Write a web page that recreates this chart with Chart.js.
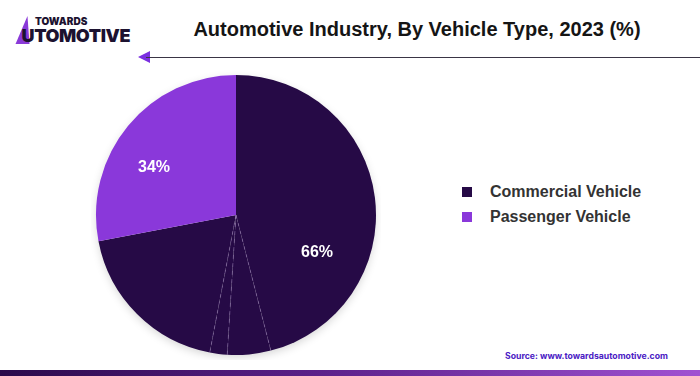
<!DOCTYPE html>
<html>
<head>
<meta charset="utf-8">
<script src="https://cdn.jsdelivr.net/npm/chart.js@4"></script>
<style>
  html, body { margin: 0; padding: 0; }
  body { width: 700px; height: 376px; position: relative; background: #fff; overflow: hidden; font-family: Inter, "Liberation Sans", sans-serif; }
  .logo { position: absolute; left: 12px; top: 15px; }
  .logo .small { position: absolute; left: 23px; top: 0; font: 900 10px Inter, sans-serif; color: #1c1230; }
  .logo .big { position: absolute; left: 0; top: 10px; font: 900 18px Inter, sans-serif; color: #1c1230; letter-spacing: -0.4px; white-space: nowrap; }
  .logo .tri { position: absolute; left: 6px; top: 1px; width: 0; height: 0; border-left: 7px solid transparent; border-right: 7px solid transparent; border-bottom: 28px solid #8a3ad8; transform: skewX(-10deg); }
  .title { position: absolute; left: 117px; top: 18px; width: 600px; text-align: center; font: 700 20px "Liberation Sans", Arial, sans-serif; color: #151515; white-space: nowrap; }
  .rule { position: absolute; left: 146px; right: 0; top: 57px; height: 1px; background: #3a3545; }
  .arrow { position: absolute; left: 138px; top: 51px; width: 0; height: 0; border-top: 6px solid transparent; border-bottom: 6px solid transparent; border-right: 12px solid #7a2fe0; }
  #wrap { position: absolute; left: 91px; top: 70px; width: 290px; height: 290px; }
  .legend { position: absolute; left: 462px; top: 179px; font: 700 16px "Liberation Sans", Arial, sans-serif; color: #333; }
  .legend div { height: 25px; line-height: 20px; display: flex; align-items: center; }
  .legend span.sw { display: inline-block; width: 10px; height: 10px; margin-right: 18px; }
  .source { position: absolute; left: 505px; top: 351px; font: 700 8.7px Inter, sans-serif; color: #4a20c4; }
  .bar { position: absolute; left: 0; right: 0; top: 370px; height: 6px; background: linear-gradient(90deg, #2a0a4a, #5a2089 45%, #a052d2); }
</style>
</head>
<body>
<div class="logo"><div class="tri"></div><div class="small">TOWARDS</div><div class="big">&nbsp;&nbsp;&nbsp;UTOMOTIVE</div></div>
<div class="title">Automotive Industry, By Vehicle Type, 2023 (%)</div>
<div class="arrow"></div><div class="rule"></div>
<div id="wrap"><canvas id="myChart"></canvas></div>
<div class="legend" id="legend"></div>
<div class="source">Source: www.towardsautomotive.com</div>
<div class="bar"></div>
<script>
// Categories and printed shares
const categories = ["Commercial Vehicle", "Passenger Vehicle"];
const shares = [66, 34];
const colors = ["#260a46", "#8a38da"];

// Slices as drawn in the picture (the dark area is made of several pieces)
const segments = [46, 5, 2, 19, 28];
const segmentOwner = [0, 0, 0, 0, 1];

// legend
const legendEl = document.getElementById("legend");
categories.forEach((c, i) => {
    const row = document.createElement("div");
    row.innerHTML = '<span class="sw" style="background:' + colors[i] + '"></span>' + c;
    legendEl.appendChild(row);
});

// faint dashed dividers between the dark pieces + shadow
const piecesPlugin = {
    id: "pieces",
    beforeDatasetsDraw(chart) {
        const ctx = chart.ctx;
        ctx.save();
        ctx.shadowColor = "rgba(0,0,0,0.18)";
        ctx.shadowBlur = 10;
        ctx.shadowOffsetY = 3;
        const a = chart.getDatasetMeta(0).data[0];
        ctx.beginPath();
        ctx.arc(a.x, a.y, a.outerRadius - 1, 0, Math.PI * 2);
        ctx.fillStyle = "#fff";
        ctx.fill();
        ctx.restore();
    },
    afterDatasetsDraw(chart) {
        const ctx = chart.ctx;
        const arcs = chart.getDatasetMeta(0).data;
        ctx.save();
        ctx.strokeStyle = "rgba(200,170,230,0.3)";
        ctx.lineWidth = 1;
        ctx.setLineDash([4, 4]);
        for (let i = 1; i < arcs.length; i++) {
            if (segmentOwner[i] !== segmentOwner[i - 1]) continue;
            const a = arcs[i];
            ctx.beginPath();
            ctx.moveTo(a.x, a.y);
            ctx.lineTo(a.x + Math.cos(a.startAngle) * a.outerRadius, a.y + Math.sin(a.startAngle) * a.outerRadius);
            ctx.stroke();
        }
        // share labels
        ctx.setLineDash([]);
        ctx.fillStyle = "#fff";
        ctx.font = "700 16px 'Liberation Sans', Arial, sans-serif";
        ctx.textAlign = "center";
        ctx.textBaseline = "middle";
        const a = arcs[0];
        ctx.fillText(shares[0] + "%", a.x + 81, a.y + 38);
        ctx.fillText(shares[1] + "%", a.x - 82, a.y - 47);
        ctx.restore();
    }
};

const config = {
    type: "pie",
    data: {
        labels: segments.map((s, i) => categories[segmentOwner[i]]),
        datasets: [{
            data: segments,
            backgroundColor: segmentOwner.map(o => colors[o]),
            borderWidth: 0
        }]
    },
    options: {
        responsive: true,
        maintainAspectRatio: false,
        animation: false,
        layout: { padding: 5 },
        plugins: {
            legend: { display: false },
            tooltip: { enabled: false }
        }
    },
    plugins: [piecesPlugin]
};

const pieChart = new Chart(document.getElementById("myChart"), config);
</script>
</body>
</html>
